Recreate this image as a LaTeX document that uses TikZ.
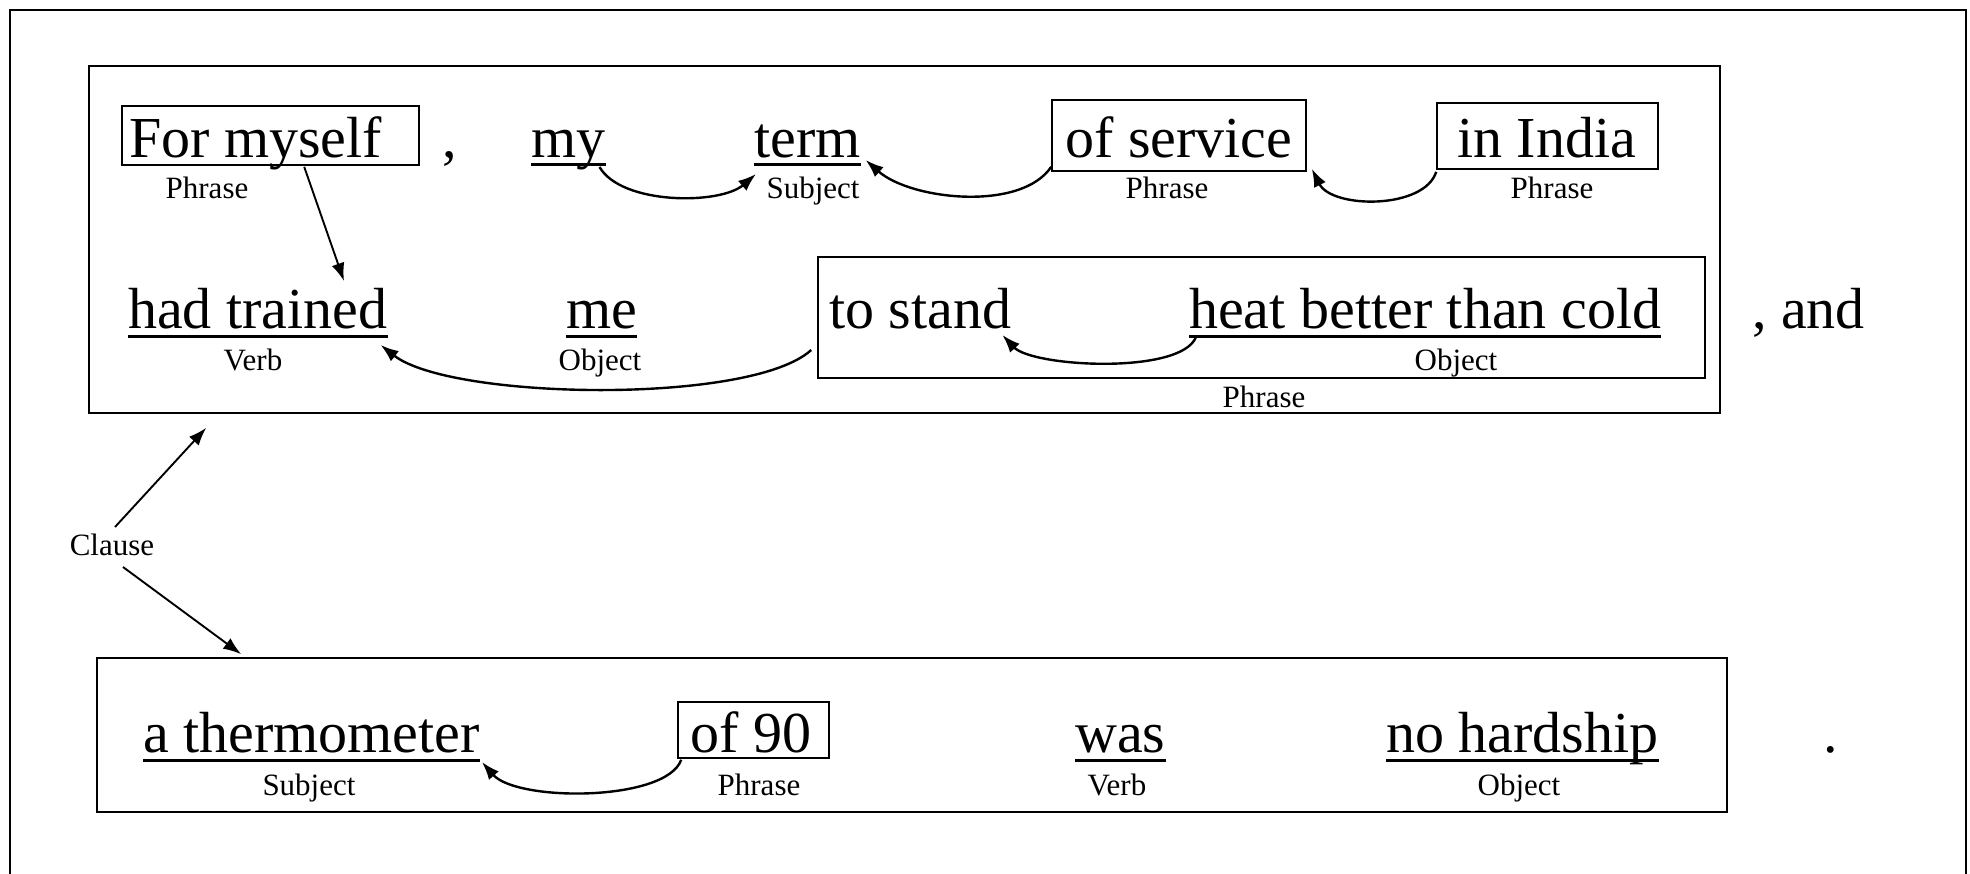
\documentclass[tikz,border=0pt]{standalone}
\usepackage{fontspec}
\setmainfont{Liberation Serif}
\usetikzlibrary{arrows.meta,calc}
\begin{document}
\begin{tikzpicture}[x=1pt,y=-1pt,
  big/.style={inner sep=0pt, font=\fontsize{58}{60}\selectfont, anchor=base west},
  lab/.style={inner sep=0pt, font=\fontsize{31}{33}\selectfont, anchor=base},
  frame/.style={draw, line width=1.6pt, inner sep=0pt},
  ul/.style={line width=3pt},
  arr/.style={line width=2.4pt, -{Latex[length=18pt,width=13pt]}},
  sarr/.style={line width=1.9pt, -{Latex[length=18pt,width=13pt]}},
]
\useasboundingbox (0,0) rectangle (1970,873);
% outer frame
\draw[line width=1.6pt] (10,880) -- (10,10) -- (1966,10) -- (1966,880);

% big boxes
\node[frame, minimum width=1631pt, minimum height=347pt] (ib1) at (904.5,239.5) {};
\node[frame, minimum width=1630pt, minimum height=154pt] (ib2) at (912,735) {};
\node[frame, minimum width=887pt, minimum height=121pt] (pb) at (1261.5,317.5) {};

% phrase boxes
\node[frame, minimum width=297pt, minimum height=59pt] (b1) at (270.5,135.5) {};
\node[frame, minimum width=254pt, minimum height=71pt] (os) at (1179,135.5) {};
\node[frame, minimum width=221pt, minimum height=66pt] (ii) at (1547.5,136) {};
\node[frame, minimum width=151pt, minimum height=56pt] (o9) at (753.5,730) {};

% row 1
\node[big] (fm) at (129,157) {For myself};
\node[big] (c1) at (442,157) {,};
\node[big] (my) at (531,157) {my};
\node[big] (term) at (754,157) {term};
\node[big] (ost) at (1065,157) {of service};
\node[big] (iit) at (1457,157) {in India};
\node[lab] (l1) at (207,198) {Phrase};
\node[lab] (l2) at (813,198) {Subject};
\node[lab] (l3) at (1167,198) {Phrase};
\node[lab] (l4) at (1552,198) {Phrase};

% row 2
\node[big] (ht) at (128,328) {had trained};
\node[big] (me) at (566,328) {me};
\node[big] (ts) at (829,328) {to stand};
\node[big] (hb) at (1189,328) {heat better than cold};
\node[big] (and) at (1752,328) {, and};
\node[lab] (l5) at (253,370) {Verb};
\node[lab] (l6) at (600,370) {Object};
\node[lab] (l7) at (1456,370) {Object};
\node[lab] (l8) at (1264,407) {Phrase};

% row 3
\node[big] (at) at (143,752) {a thermometer};
\node[big] (o9t) at (690,752) {of 90};
\node[big] (was) at (1075,752) {was};
\node[big] (nh) at (1386,752) {no hardship};
\node[big] (dot) at (1823,752) {.};
\node[lab] (l9) at (309,795) {Subject};
\node[lab] (l10) at (759,795) {Phrase};
\node[lab] (l11) at (1117,795) {Verb};
\node[lab] (l12) at (1519,795) {Object};

\node[lab] (cl) at (112,555) {Clause};

% underlines
\foreach \n/\d in {my/7,term/7,ht/8,me/8,hb/8,at/8,was/8,nh/8}
  \draw[ul] ([yshift=-\d pt]\n.base west) -- ([yshift=-\d pt]\n.base east);

% connectors
\draw[sarr] ([xshift=3pt,yshift=28pt]cl.base) -- ([xshift=118pt,yshift=-14pt]ib1.south west);
\draw[sarr] ([xshift=11pt,yshift=-12pt]cl.base) -- ([xshift=145pt,yshift=3pt]ib2.north west);
\draw[sarr] ([xshift=183pt,yshift=-1pt]b1.south west) -- ([xshift=216pt,yshift=47pt]ht.base west);

\draw[arr] ([xshift=-6pt,yshift=-10pt]my.base east) .. controls +(22,38) and +(-36,31) .. ([xshift=2pt,yshift=-17pt]term.base west);
\draw[arr] ([yshift=5pt]os.south west) .. controls +(-30,45) and +(45,40) .. ([xshift=5pt,yshift=-3pt]term.base east);
\draw[arr] ([yshift=-2pt]ii.south west) .. controls +(-12,38) and +(20,40) .. ([xshift=5pt,yshift=3pt]os.south east);
\draw[arr] ([xshift=-6pt,yshift=-32.5pt]pb.west) .. controls +(-60,55) and +(70,55) .. ([xshift=-7pt,yshift=-17pt]ht.base east);
\draw[arr] ([xshift=7pt,yshift=-9pt]hb.base west) .. controls +(-15,38) and +(30,32) .. ([xshift=-9pt,yshift=-7pt]ts.base east);
\draw[arr] ([xshift=4pt,yshift=-1pt]o9.south west) .. controls +(-15,42) and +(35,40) .. ([xshift=2pt,yshift=-10pt]at.base east);
\end{tikzpicture}
\end{document}
